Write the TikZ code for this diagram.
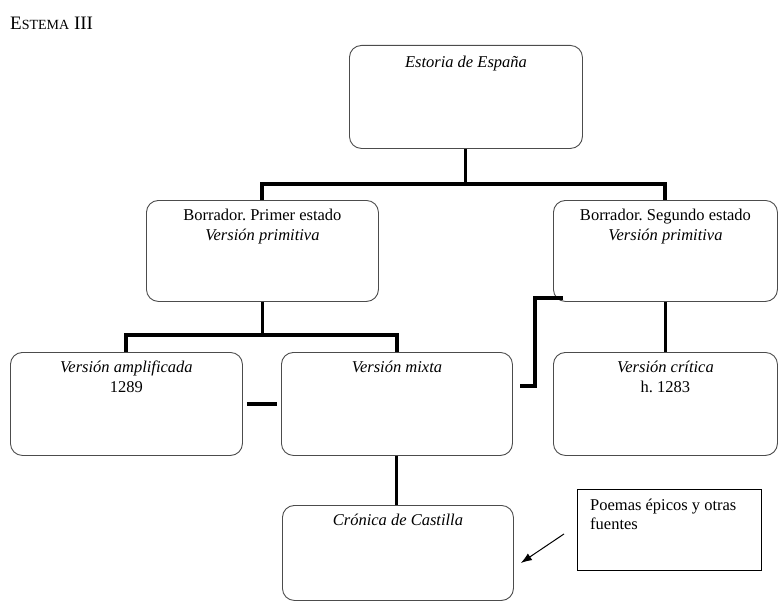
\documentclass[tikz,border=0pt]{standalone}
\usepackage{fontspec}
\setmainfont{Liberation Serif}
\frenchspacing
\usetikzlibrary{arrows.meta,positioning}
\tikzset{
  caja/.style={draw=black!70, line width=0.9pt, rounded corners=12pt, anchor=north west, inner sep=0pt},
  rotulo/.style={anchor=north, inner sep=0pt, yshift=-9pt, align=center, font=\fontsize{16.5}{20}\selectfont},
  barra/.style={line width=4pt, line join=miter},
  tallo/.style={line width=3pt}
}
\begin{document}
\begin{tikzpicture}[x=1pt,y=-1pt]
\useasboundingbox (0,0) rectangle (778,602);

\node[anchor=west,inner sep=0pt,font=\fontsize{19}{22}\selectfont] (titulo) at (10,23) {E{\fontsize{14}{16}\selectfont STEMA} III};

% cajas
\node[caja, minimum width=233pt, minimum height=103pt,
      label={[rotulo,yshift=-2pt]north:\textit{Estoria de España}}] (est) at (349,45) {};
\node[caja, minimum width=232pt, minimum height=101pt,
      label={[rotulo]north:Borrador. Primer estado\\\textit{Versión primitiva}}] (prim) at (146,200) {};
\node[caja, minimum width=224pt, minimum height=101pt,
      label={[rotulo]north:Borrador. Segundo estado\\\textit{Versión primitiva}}] (seg) at (553,200) {};
\node[caja, minimum width=232pt, minimum height=103pt,
      label={[rotulo]north:\textit{Versión amplificada}\\1289}] (ampl) at (10,352) {};
\node[caja, minimum width=231pt, minimum height=103pt,
      label={[rotulo]north:\textit{Versión mixta}}] (mixta) at (281,352) {};
\node[caja, minimum width=224pt, minimum height=103pt,
      label={[rotulo]north:\textit{Versión crítica}\\h. 1283}] (crit) at (553,352) {};
\node[caja, minimum width=231pt, minimum height=95pt,
      label={[rotulo]north:\textit{Crónica de Castilla}}] (cron) at (282,505) {};
\node[draw=black, line width=0.9pt, anchor=north west, inner sep=0pt,
      minimum width=184pt, minimum height=81pt,
      label={[anchor=north west, inner sep=0pt, xshift=13pt, yshift=-10pt, align=left,
              font=\fontsize{16.5}{19}\selectfont]north west:Poemas épicos y otras\\fuentes}] (poe) at (577,489) {};

% uniones
\draw[tallo] (est.south) -- ++(0,36);
\draw[barra] (prim.north) -- ++(0,-16) -| (seg.north);
\draw[tallo] (prim.south) -- ++(0,34);
\draw[barra] (ampl.north) -- ++(0,-17) -| (mixta.north);
\draw[barra] ([xshift=4pt]ampl.east) -- ([xshift=-4pt]mixta.west);
\draw[barra] ([xshift=10pt,yshift=4pt]seg.south west) -- ++(-28,0) |- ([xshift=7pt,yshift=18pt]mixta.east);
\draw[tallo] (seg.south) -- (crit.north);
\draw[tallo] (mixta.south) -- (mixta.south |- cron.north);
\draw[line width=1pt, -{Latex[length=11pt,width=8pt]}] ([xshift=-13pt,yshift=-4pt]poe.west) -- ([xshift=7pt,yshift=-10pt]cron.east);
\end{tikzpicture}
\end{document}
